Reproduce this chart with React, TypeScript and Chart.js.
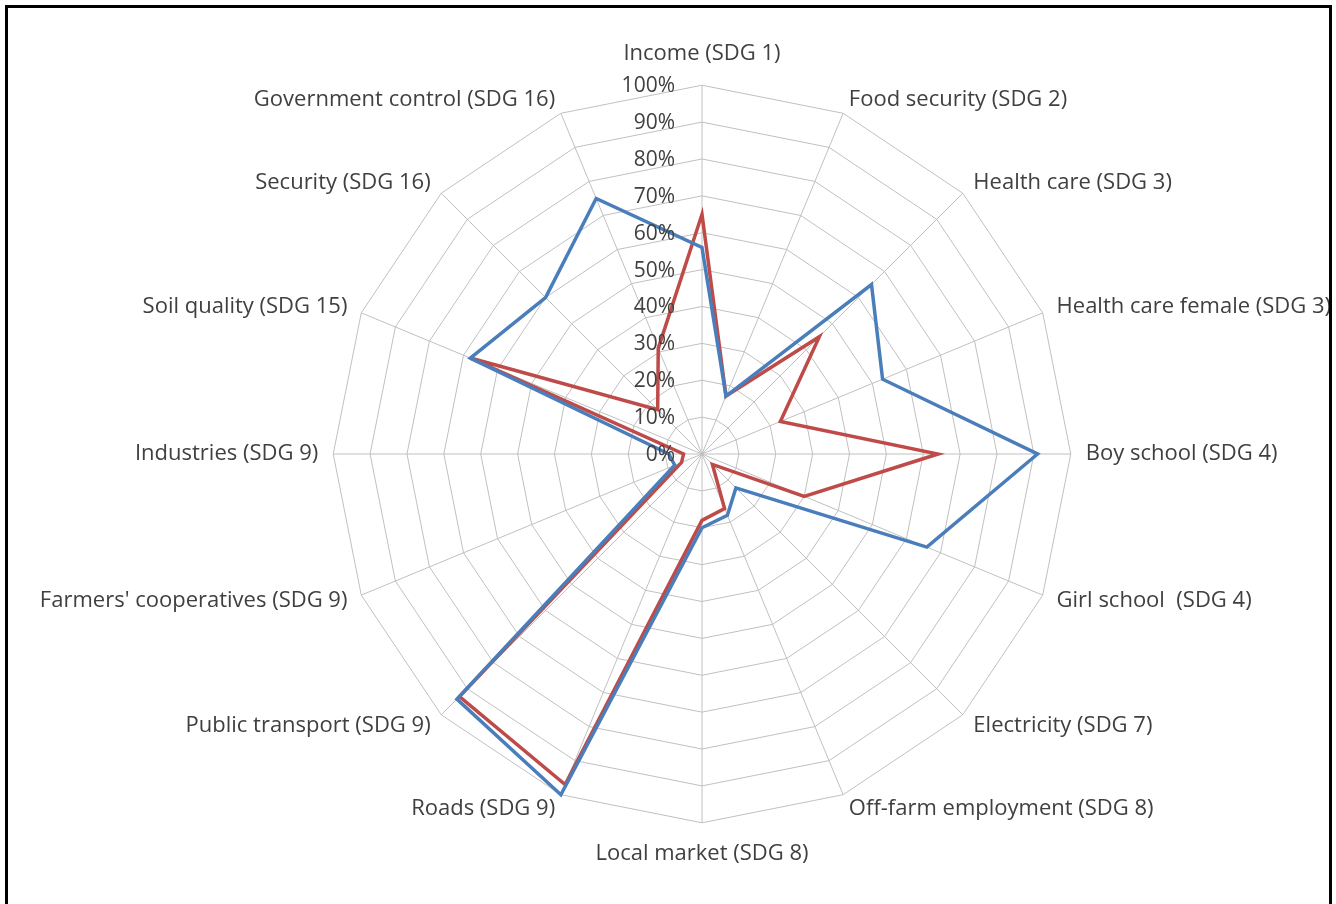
import React, { useEffect, useRef } from "react";
import { Chart, registerables } from "chart.js";

Chart.register(...registerables);

const categories = [
  "Income (SDG 1)",
  "Food security (SDG 2)",
  "Health care (SDG 3)",
  "Health care female (SDG 3)",
  "Boy school (SDG 4)",
  "Girl school  (SDG 4)",
  "Electricity (SDG 7)",
  "Off-farm employment (SDG 8)",
  "Local market (SDG 8)",
  "Roads (SDG 9)",
  "Public transport (SDG 9)",
  "Farmers' cooperatives (SDG 9)",
  "Industries (SDG 9)",
  "Soil quality (SDG 15)",
  "Security (SDG 16)",
  "Government control (SDG 16)",
];

const blueValues = [56, 17, 65, 53, 91, 66, 13, 18, 20, 100, 94, 8, 9, 68, 60, 75];
const redValues = [65, 17, 45, 23, 64, 30, 4, 16, 18, 97, 93, 6, 5, 68, 17, 31];

const tickMin = 0;
const tickMax = 100;
const tickStep = 10;

const FONT = '"Open Sans", "Noto Sans", sans-serif';
const TEXT = "#404040";

const tickLabelPlugin = {
  id: "leftTickLabels",
  afterDatasetsDraw(chart: any) {
    const scale = chart.scales.r;
    const ctx = chart.ctx;
    ctx.save();
    ctx.font = `21px ${FONT}`;
    ctx.fillStyle = TEXT;
    ctx.textAlign = "right";
    ctx.textBaseline = "middle";
    scale.ticks.forEach((t: any) => {
      const d = scale.getDistanceFromCenterForValue(t.value);
      ctx.fillText(t.label, scale.xCenter - 27, scale.yCenter - d + 1);
    });
    ctx.restore();
  },
};

export default function App() {
  const ref = useRef<HTMLCanvasElement | null>(null);

  useEffect(() => {
    document.body.style.margin = "0";
    document.body.style.background = "#ffffff";
    const canvas = ref.current!;
    const chart = new Chart(canvas, {
      type: "radar",
      data: {
        labels: categories,
        datasets: [
          {
            label: "Series 1",
            data: blueValues,
            borderColor: "#4A7EBB",
            borderWidth: 3.5,
            pointRadius: 0,
            fill: false,
            tension: 0,
          },
          {
            label: "Series 2",
            data: redValues,
            borderColor: "#BE4B48",
            borderWidth: 3.5,
            pointRadius: 0,
            fill: false,
            tension: 0,
          },
        ],
      },
      options: {
        responsive: false,
        animation: false,
        layout: { padding: { top: 30, bottom: 30, left: 0, right: 0 } },
        plugins: {
          legend: { display: false },
          tooltip: { enabled: false },
        },
        scales: {
          r: {
            min: tickMin,
            max: tickMax,
            beginAtZero: true,
            angleLines: { color: "#c0c0c0", lineWidth: 1 },
            grid: { color: "#c0c0c0", lineWidth: 1, circular: false },
            ticks: {
              display: false,
              stepSize: tickStep,
              callback: (v: any) => `${v}%`,
            },
            pointLabels: {
              display: true,
              color: TEXT,
              font: { family: FONT, size: 22, lineHeight: 0.01 },
              padding: (ctx: any) => (ctx.index === 0 || ctx.index === 8 ? 31 : 15),
            },
          },
        },
      },
      plugins: [tickLabelPlugin],
    });
    return () => chart.destroy();
  }, []);

  return (
    <div
      style={{
        position: "fixed",
        left: 0,
        top: 0,
        width: 1336,
        height: 904,
        overflow: "hidden",
        background: "#ffffff",
      }}
    >
      <canvas
        ref={ref}
        width={1404}
        height={860}
        style={{ position: "absolute", left: 0, top: 25 }}
      />
      <div
        style={{
          position: "absolute",
          left: 5,
          top: 5,
          width: 1321,
          height: 940,
          border: "3px solid #000",
        }}
      />
    </div>
  );
}
